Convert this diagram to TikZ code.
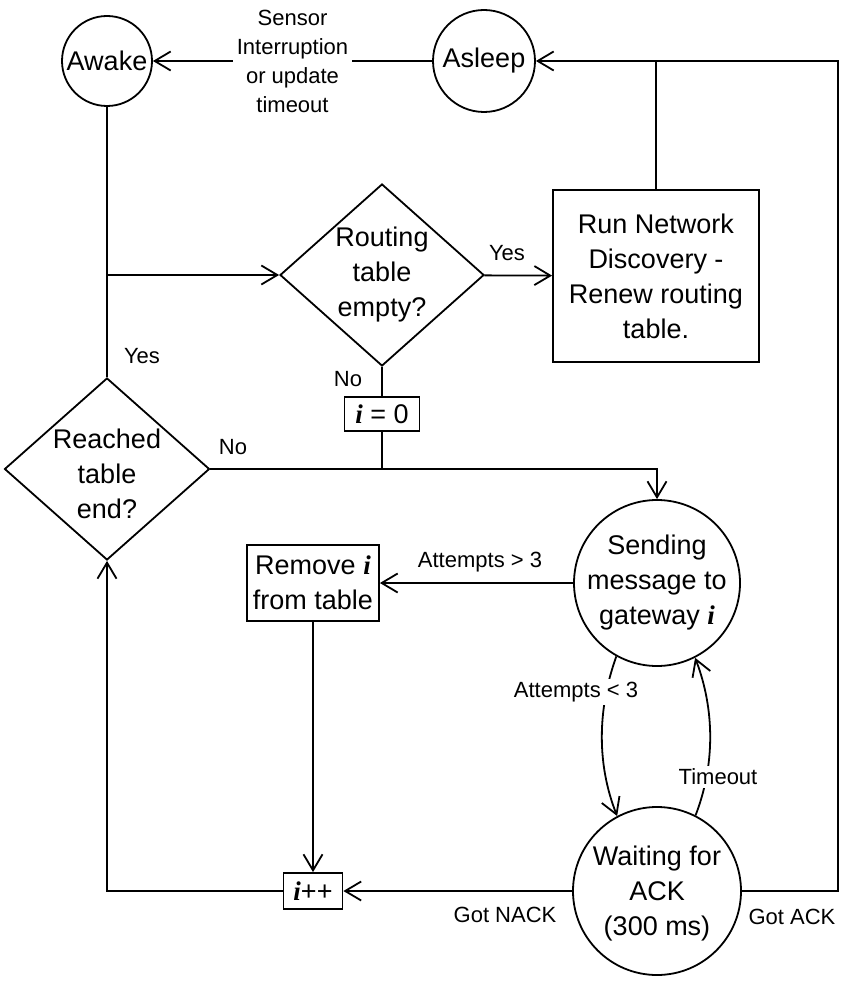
\documentclass[tikz,border=0pt]{standalone}
\usepackage{fontspec}
\setmainfont{Liberation Sans}
\newfontfamily\tnr{Liberation Serif}
\usetikzlibrary{shapes.geometric,arrows.meta}
\newcommand\vi{{\tnr\bfseries\itshape i}}
\begin{document}
\begin{tikzpicture}[x=1pt,y=-1pt, line width=1.8pt,
  arr/.style={-{Straight Barb[length=16pt,width=19pt]}},
  big/.style={font=\fontsize{27}{35}\selectfont, align=center, inner sep=0pt},
  lab/.style={font=\fontsize{22}{29}\selectfont, align=center, inner sep=1pt},
  circ/.style={draw, circle, inner sep=0pt},
  box/.style={draw, rectangle, inner sep=0pt},
  dia/.style={draw, diamond, inner sep=0pt}]
\useasboundingbox (0,0) rectangle (849,984);

% shapes
\node[circ, minimum size=90] (awake) at (107,61) {};
\node[big] (awaket) at (awake) {Awake};
\node[circ, minimum size=102] (asleep) at (484,61) {};
\node[big] (asleept) at (asleep) {Asleep};
\node[dia, minimum width=204, minimum height=182] (rt) at (382,275) {};
\node[big] (rtt) at (rt) {Routing\\table\\empty?};
\node[box, minimum width=206, minimum height=172] (run) at (656,276) {};
\node[big] (runt) at (run) {Run Network\\Discovery -\\Renew routing\\table.};
\node[box, minimum width=75, minimum height=34] (i0) at (382,414) {};
\node[big] (i0t) at (i0) {\vi{} = 0};
\node[dia, minimum width=205, minimum height=182] (reach) at (107,469) {};
\node[big] (reacht) at (107,474) {Reached\\table\\end?};
\node[circ, minimum size=166] (send) at (657,583) {};
\node[big] (sendt) at (send) {Sending\\message to\\gateway \vi};
\node[box, minimum width=132, minimum height=76] (rem) at (313,583) {};
\node[big] (remt) at (rem) {Remove \vi\\from table};
\node[box, minimum width=59, minimum height=36] (inc) at (313,891) {};
\node[big] (inct) at (inc) {\vi++};
\node[circ, minimum size=168] (wait) at (657,891) {};
\node[big] (waitt) at (657,894) {Waiting for\\ACK\\(300 ms)};

% connectors
\coordinate (j1) at (107,275);
\coordinate (j2) at (382,469);
\coordinate (rc) at (838,61);
\draw (awake) -- (reach);
\draw[arr] (j1) -- (rt);
\draw[arr] (rt) -- (run);
\draw[arr] (asleep) -- node[lab, fill=white, inner sep=4pt] (sensor) {Sensor\\Interruption\\or update\\timeout} (awake);
\draw (run.north) -- (run.north |- asleep.east);
\draw[arr] (wait.east) -| (rc) -- (asleep.east);
\draw (rt.south) -- (i0.north);
\draw (i0.south) -- (j2);
\draw[arr] (reach.east) -| (send.north);
\draw[arr] (send.west) -- (rem.east);
\draw[arr] (rem.south) -- (inc.north);
\draw[arr] (wait.west) -- (inc.east);
\draw[arr] (inc.west) -| (reach.south);
\draw[arr] (send.241) .. controls (597,710) and (597,765) .. (wait.118);
\draw[arr] (wait.63) .. controls (715,765) and (715,710) .. (send.297);

% labels
\node[lab, fill=white, inner sep=3pt] (att3) at (576,692) {Attempts < 3};
\node[lab, fill=white, inner sep=3pt] (tout) at (718,777) {Timeout};
\node[lab] (att) at (480,562) {Attempts > 3};
\node[lab] (nack) at (505,915) {Got NACK};
\node[lab] (ack) at (792,917) {Got ACK};
\node[lab] (no1) at (348,379) {No};
\node[lab] (no2) at (233,447) {No};
\node[lab] (yes1) at (507,253) {Yes};
\node[lab] (yes2) at (142,356) {Yes};
\end{tikzpicture}
\end{document}
